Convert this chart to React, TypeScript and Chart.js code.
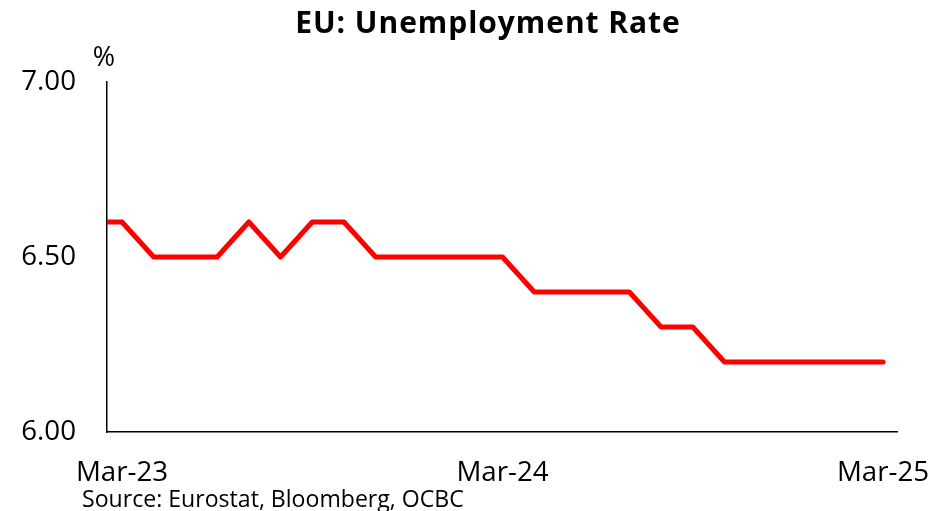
import React, { useEffect, useRef } from 'react';
import { Chart, registerables } from 'chart.js';

Chart.register(...registerables);

// ---- Data ----
const TITLE = 'EU: Unemployment Rate';
const UNIT_LABEL = '%';
const SOURCE = 'Source: Eurostat, Bloomberg, OCBC';

const months = [
  'Feb-23', 'Mar-23', 'Apr-23', 'May-23', 'Jun-23', 'Jul-23', 'Aug-23', 'Sep-23', 'Oct-23',
  'Nov-23', 'Dec-23', 'Jan-24', 'Feb-24', 'Mar-24', 'Apr-24', 'May-24', 'Jun-24', 'Jul-24',
  'Aug-24', 'Sep-24', 'Oct-24', 'Nov-24', 'Dec-24', 'Jan-25', 'Feb-25', 'Mar-25',
];
const unemploymentRate = [
  6.6, 6.6, 6.5, 6.5, 6.5, 6.6, 6.5, 6.6, 6.6,
  6.5, 6.5, 6.5, 6.5, 6.5, 6.4, 6.4, 6.4, 6.4,
  6.3, 6.3, 6.2, 6.2, 6.2, 6.2, 6.2, 6.2,
];
const xTickLabels = ['Mar-23', 'Mar-24', 'Mar-25'];
const yTickValues = [6.0, 6.5, 7.0];

const FONT = '"Open Sans", "Liberation Sans", sans-serif';

const textPlugin = {
  id: 'chartTexts',
  afterDraw(chart: any) {
    const ctx: CanvasRenderingContext2D = chart.ctx;
    const area = chart.chartArea;
    ctx.save();
    ctx.fillStyle = '#000000';
    ctx.textBaseline = 'alphabetic';

    // Title
    ctx.font = `bold 30px ${FONT}`;
    ctx.textAlign = 'center';
    (ctx as any).letterSpacing = '0.95px';
    ctx.fillText(TITLE, 488, 33);
    (ctx as any).letterSpacing = '0px';

    // Unit label above the y axis
    ctx.font = `27px ${FONT}`;
    ctx.textAlign = 'center';
    ctx.fillText(UNIT_LABEL, area.left - 3, area.top - 16);

    // Source note
    ctx.font = `23.1px ${FONT}`;
    ctx.textAlign = 'left';
    ctx.fillText(SOURCE, 82, 507);

    ctx.restore();
  },
};

export default function App() {
  const canvasRef = useRef<HTMLCanvasElement | null>(null);

  useEffect(() => {
    const canvas = canvasRef.current;
    if (!canvas) return;

    const chart = new Chart(canvas, {
      type: 'line',
      data: {
        datasets: [
          {
            label: 'EU unemployment rate',
            data: unemploymentRate.map((v, i) => ({ x: i, y: v })),
            borderColor: '#FF0000',
            backgroundColor: '#FF0000',
            borderWidth: 5,
            pointRadius: 0,
            pointHoverRadius: 0,
            tension: 0,
            borderCapStyle: 'round',
            borderJoinStyle: 'round',
            clip: 0,
          } as any,
        ],
      },
      options: {
        responsive: false,
        animation: false,
        devicePixelRatio: 1,
        layout: { padding: { top: 82, right: 46, bottom: 0, left: 0 } },
        plugins: {
          legend: { display: false },
          title: { display: false },
          tooltip: { enabled: false },
        },
        events: [],
        scales: {
          x: {
            type: 'linear',
            min: 0.527,
            max: 25.44,
            grid: { display: false, drawTicks: false },
            border: { display: true, color: '#000000', width: 1.5 },
            afterBuildTicks: (scale: any) => {
              scale.ticks = xTickLabels.map((l) => ({ value: months.indexOf(l) }));
            },
            afterFit: (scale: any) => {
              scale.height = 79;
              scale.paddingLeft = 0;
              scale.paddingRight = 0;
            },
            ticks: {
              autoSkip: false,
              maxRotation: 0,
              minRotation: 0,
              padding: 24,
              color: '#000000',
              font: { family: FONT, size: 27.7 },
              callback: (v: any) => months[Math.round(Number(v))],
            },
          },
          y: {
            type: 'linear',
            min: 6,
            max: 7,
            grid: { display: false, drawTicks: false },
            border: { display: true, color: '#000000', width: 1.5 },
            afterBuildTicks: (scale: any) => {
              scale.ticks = yTickValues.map((v) => ({ value: v }));
            },
            afterFit: (scale: any) => {
              scale.width = 107;
              scale.paddingTop = 0;
              scale.paddingBottom = 0;
            },
            ticks: {
              padding: 31,
              color: '#000000',
              font: { family: FONT, size: 27.7 },
              callback: (v: any) => Number(v).toFixed(2),
            },
          },
        },
      } as any,
      plugins: [textPlugin],
    });

    return () => {
      chart.destroy();
    };
  }, []);

  return (
    <div style={{ position: 'absolute', left: 0, top: 0, width: 943, height: 511, background: '#ffffff' }}>
      <canvas ref={canvasRef} width={943} height={511} style={{ display: 'block' }} />
    </div>
  );
}
